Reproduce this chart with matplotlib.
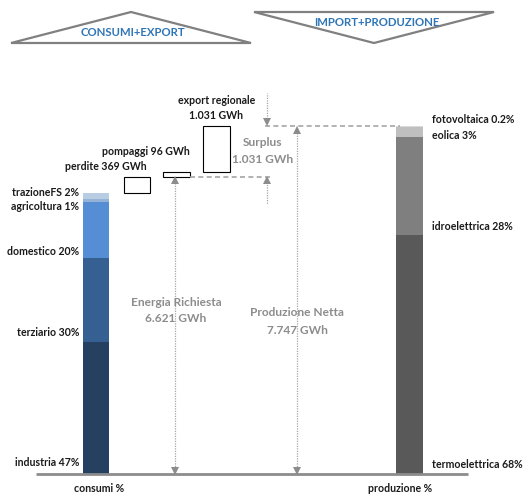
import numpy as np
import matplotlib.pyplot as plt
from matplotlib.patches import Polygon, Rectangle

plt.rcParams['font.family'] = ['Lato', 'DejaVu Sans']

# Data
consumi_labels = ['industria', 'terziario', 'domestico', 'agricoltura', 'trazioneFS']
consumi_pct = [47, 30, 20, 1, 2]
consumi_colors = ['#254061', '#376092', '#558ED5', '#95B3D7', '#B8CCE4']

prod_labels = ['termoelettrica', 'idroelettrica', 'eolica', 'fotovoltaica']
prod_pct = [68, 28, 3, 0.2]
prod_colors = ['#595959', '#7F7F7F', '#BFBFBF', '#D9D9D9']

energia_richiesta = 6621
perdite = 369
pompaggi = 96
export = 1031
produzione_netta = 7747

# layout: baseline at pixel 474, top of production bar at pixel 126
W, H = 531, 496
base_px, top_px = 474, 126
k = produzione_netta / (base_px - top_px)   # GWh per pixel


def py(p):
    # pixel row -> data y
    return (base_px - p) * k


fig = plt.figure(figsize=(W / 100, H / 100), dpi=100)
ax = fig.add_axes([0, 0, 1, 1])
ax.set_xlim(0, W)
ax.set_ylim(py(H), py(0))
ax.axis('off')

gray_txt = '#8C8C8C'
line_gray = '#A6A6A6'
fs = 7.6
gfs = 8.6

# consumi bar
consumi_tot = energia_richiesta - perdite
vals = np.array(consumi_pct) / sum(consumi_pct) * consumi_tot
bottoms = np.concatenate([[0], np.cumsum(vals)[:-1]])
ax.bar(96, vals, bottom=bottoms, width=26, color=consumi_colors)
left_off = [11, 10, 6, -5, 6]
for lab, p, b, o in zip(consumi_labels, consumi_pct, bottoms, left_off):
    ax.text(79, b + o * k, f'{lab} {p}%', ha='right', va='center',
            fontsize=fs, fontweight='bold', color='#1a1a1a')

# produzione bar
pvals = np.array(prod_pct) / sum(prod_pct) * produzione_netta
pbottoms = np.concatenate([[0], np.cumsum(pvals)[:-1]])
ax.bar(409.5, pvals, bottom=pbottoms, width=27, color=prod_colors)
right_off = [9, 9, 2, 7]
for lab, p, b, o in zip(prod_labels, prod_pct, pbottoms, right_off):
    ax.text(432, b + o * k, f'{lab} {p:g}%', ha='left', va='center',
            fontsize=fs, fontweight='bold', color='#1a1a1a')

# floating boxes
box_kw = dict(facecolor='white', edgecolor='black', linewidth=0.8)
ax.add_patch(Rectangle((124, consumi_tot), 26, perdite, **box_kw))
ax.add_patch(Rectangle((163, energia_richiesta), 27, pompaggi, **box_kw))
ax.add_patch(Rectangle((203, energia_richiesta + pompaggi), 27, export, **box_kw))

ax.text(106, energia_richiesta + 10 * k, f'perdite {perdite} GWh', ha='center', va='center',
        fontsize=fs, fontweight='bold', color='#1a1a1a')
ax.text(146, energia_richiesta + pompaggi + 21 * k, f'pompaggi {pompaggi} GWh', ha='center',
        va='center', fontsize=fs, fontweight='bold', color='#1a1a1a')
ax.text(217, produzione_netta + 25 * k, 'export regionale', ha='center', va='center',
        fontsize=fs, fontweight='bold', color='#1a1a1a')
ax.text(216, produzione_netta + 10 * k, '1.031 GWh', ha='center', va='center',
        fontsize=fs, fontweight='bold', color='#1a1a1a')

# dashed guides
ax.plot([265, 400], [produzione_netta, produzione_netta], color=line_gray, lw=1.2,
        dashes=(3, 2))
ax.plot([190, 273], [energia_richiesta, energia_richiesta], color=line_gray, lw=1.2,
        dashes=(3, 2))


def vline(x, y0, y1):
    ax.plot([x, x], [y0, y1], color=line_gray, lw=0.9, ls=(0, (1, 1)))


def head(x, y, up):
    m = '^' if up else 'v'
    off = -3.5 * k if up else 3.5 * k
    ax.plot(x, y + off, marker=m, color='#8C8C8C', markersize=6, markeredgewidth=0)


# Energia richiesta arrow
vline(175, 0, energia_richiesta)
head(175, energia_richiesta, True)
head(175, 0, False)
# Produzione netta arrow
vline(297, 0, produzione_netta)
head(297, produzione_netta, True)
head(297, 0, False)
# Surplus arrows
vline(267, produzione_netta, py(93))
head(267, produzione_netta, False)
vline(267, energia_richiesta, py(204))
head(267, energia_richiesta, True)

ax.text(263, py(143), 'Surplus', ha='center', va='center', fontsize=gfs, fontweight='bold',
        color=gray_txt)
ax.text(263, py(160), '1.031 GWh', ha='center', va='center', fontsize=gfs, fontweight='bold',
        color=gray_txt)
ax.text(176, py(302), 'Energia Richiesta', ha='center', va='center', fontsize=gfs,
        fontweight='bold', color=gray_txt)
ax.text(176, py(319), '6.621 GWh', ha='center', va='center', fontsize=gfs,
        fontweight='bold', color=gray_txt)
ax.text(297, py(313), 'Produzione Netta', ha='center', va='center', fontsize=gfs,
        fontweight='bold', color=gray_txt)
ax.text(297, py(331), '7.747 GWh', ha='center', va='center', fontsize=gfs,
        fontweight='bold', color=gray_txt)

# baseline
ax.plot([36, 468], [0, 0], color='#8C8C8C', lw=2, solid_capstyle='butt')
ax.text(99, py(488), 'consumi %', ha='center', va='center', fontsize=fs,
        fontweight='bold', color='#1a1a1a')
ax.text(400, py(488), 'produzione %', ha='center', va='center', fontsize=fs,
        fontweight='bold', color='#1a1a1a')

# top banners
tri_kw = dict(closed=True, facecolor='none', edgecolor='#808080', linewidth=1.6)
ax.add_patch(Polygon([(11, py(43)), (131, py(12)), (251, py(43))], **tri_kw))
ax.add_patch(Polygon([(254, py(12)), (494, py(12)), (374, py(43))], **tri_kw))
ax.text(133, py(33), 'CONSUMI+EXPORT', ha='center', va='center', fontsize=8.2,
        fontweight='bold', color='#2E75B6')
ax.text(377, py(23), 'IMPORT+PRODUZIONE', ha='center', va='center', fontsize=8.2,
        fontweight='bold', color='#2E75B6')

fig.savefig('out.png', dpi=100)
